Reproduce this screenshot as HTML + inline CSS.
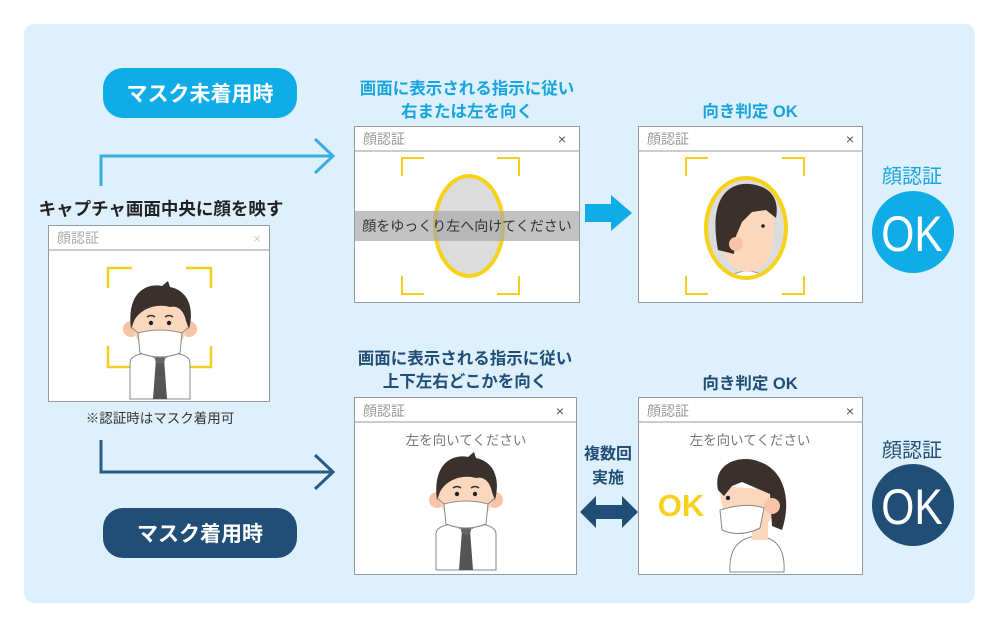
<!DOCTYPE html>
<html><head><meta charset="utf-8"><style>
html,body{margin:0;padding:0;background:#fff;}
svg{display:block;font-family:"Liberation Sans","Noto Sans CJK JP",sans-serif;}
</style></head><body>
<svg width="1000" height="625" viewBox="0 0 1000 625" xmlns="http://www.w3.org/2000/svg">
<defs>
<g id="front">
  <rect x="-8" y="20" width="16" height="22" fill="#fbd7bd"/>
  <path d="M-30,80 L-30,44 Q-30,36 -14,34 L14,34 Q30,36 30,44 L30,80 Z" fill="#fff" stroke="#888" stroke-width="1"/>
  <path d="M-14,34 L0,42 L14,34" fill="none" stroke="#888" stroke-width="1"/>
  <polygon points="-4,40 4,40 7,80 -7,80" fill="#555"/>
  <circle cx="0" cy="40" r="5" fill="#666"/>
  <circle cx="-29" cy="10" r="8" fill="#f6c4a6"/>
  <circle cx="29" cy="10" r="8" fill="#f6c4a6"/>
  <ellipse cx="0" cy="4" rx="27" ry="30" fill="#fbd7bd"/>
  <path d="M-29,10 C-34,-30 -10,-36 2,-33 L8,-38 L10,-32 C30,-28 34,-8 29,10 L26,2 C24,-8 18,-14 10,-12 C-4,-16 -20,-10 -26,2 Z" fill="#3a302c"/>
  <path d="M-13,-2 Q-9,-5 -5,-2 M5,-2 Q9,-5 13,-2" stroke="#3a302c" stroke-width="1.5" fill="none"/>
  <circle cx="-9" cy="4" r="2.2" fill="#222"/>
  <circle cx="9" cy="4" r="2.2" fill="#222"/>
  <path d="M-22,14 Q0,8 22,14 L20,34 Q0,42 -20,34 Z" fill="#fff" stroke="#888" stroke-width="1"/>
  <path d="M-22,14 L-29,8 M22,14 L29,8" stroke="#888" stroke-width="1"/>
</g>
</defs>
<rect x="24" y="24" width="951" height="579" rx="10" fill="#def0fb"/>

<!-- pills -->
<rect x="103" y="68" width="194" height="50" rx="20" fill="#10ace8"/>
<text x="200" y="101" text-anchor="middle" font-size="21" font-weight="bold" fill="#fff">マスク未着用時</text>
<rect x="103" y="508" width="194" height="50" rx="20" fill="#214e76"/>
<text x="200" y="541" text-anchor="middle" font-size="21" font-weight="bold" fill="#fff">マスク着用時</text>

<!-- connectors -->
<path d="M101,186 L101,156 L333,156" fill="none" stroke="#3aaee0" stroke-width="3"/>
<path d="M315,139 L333,156 L315,173" fill="none" stroke="#3aaee0" stroke-width="3"/>
<path d="M101,440 L101,472 L333,472" fill="none" stroke="#2c5b86" stroke-width="3"/>
<path d="M315,455 L333,472 L315,489" fill="none" stroke="#2c5b86" stroke-width="3"/>

<text x="161" y="215" text-anchor="middle" font-size="17.5" font-weight="bold" fill="#222">キャプチャ画面中央に顔を映す</text>

<!-- window 1 -->
<rect x="48.5" y="225.5" width="221" height="176" fill="#fff" stroke="#999"/>
<line x1="48" y1="250" x2="270" y2="250" stroke="#999"/>
<text x="57" y="243" font-size="14" fill="#aaa">顔認証</text>
<text x="257" y="243" text-anchor="middle" font-size="13" fill="#ccc">×</text>
<path d="M108,288 L108,268 L132,268 M186,268 L211,268 L211,288 M108,346 L108,367 L132,367 M186,367 L211,367 L211,346" stroke="#f5cf1e" stroke-width="2.5" fill="none"/>
<use href="#front" transform="translate(160,319)"/>
<text x="160" y="423" text-anchor="middle" font-size="13.5" fill="#333">※認証時はマスク着用可</text>

<!-- top headings -->
<text x="467" y="94" text-anchor="middle" font-size="16.5" font-weight="bold" fill="#18a4df">画面に表示される指示に従い</text>
<text x="467" y="117" text-anchor="middle" font-size="16.5" font-weight="bold" fill="#18a4df">右または左を向く</text>
<text x="750" y="117" text-anchor="middle" font-size="16.5" font-weight="bold" fill="#18a4df">向き判定 OK</text>

<!-- window 2 -->
<rect x="354.5" y="126.5" width="225" height="176" fill="#fff" stroke="#999"/>
<line x1="354" y1="151" x2="580" y2="151" stroke="#999"/>
<text x="363" y="144" font-size="14" fill="#999">顔認証</text>
<text x="562" y="144" text-anchor="middle" font-size="14" fill="#555">×</text>
<path d="M402,176 L402,158 L424,158 M497,158 L519,158 L519,176 M402,276 L402,294 L424,294 M497,294 L519,294 L519,276" stroke="#f5cf1e" stroke-width="2" fill="none"/>
<ellipse cx="469" cy="226" rx="34" ry="50" fill="#dcdcdc" stroke="#f7d21a" stroke-width="4"/>
<rect x="355" y="211" width="224" height="30" fill="#a8a8a8" fill-opacity="0.7"/>
<text x="467" y="231" text-anchor="middle" font-size="14" fill="#333">顔をゆっくり左へ向けてください</text>

<!-- blue arrow -->
<polygon points="585,204 611,204 611,195 632,213 611,231 611,222 585,222" fill="#10ace8"/>

<!-- window 3 -->
<rect x="638.5" y="126.5" width="224" height="176" fill="#fff" stroke="#999"/>
<line x1="638" y1="151" x2="863" y2="151" stroke="#999"/>
<text x="647" y="144" font-size="14" fill="#999">顔認証</text>
<text x="850" y="144" text-anchor="middle" font-size="14" fill="#555">×</text>
<path d="M686,176 L686,158 L708,158 M782,158 L804,158 L804,176 M686,276 L686,294 L708,294 M782,294 L804,294 L804,276" stroke="#f5cf1e" stroke-width="2" fill="none"/>
<clipPath id="ov"><ellipse cx="746" cy="228" rx="38" ry="48"/></clipPath>
<ellipse cx="746" cy="228" rx="40" ry="50" fill="#dcdcdc" stroke="#f7d21a" stroke-width="4"/>
<g clip-path="url(#ov)">
<path d="M726,280 Q746,262 770,280 Z" fill="#fff" stroke="#999"/>
<path d="M722,230 Q722,272 748,272 Q772,270 774,236 L774,200 L722,200 Z" fill="#fbd7bd"/>
<path d="M718,250 C708,196 730,182 750,184 C768,186 780,196 776,218 L766,210 L752,212 L742,222 L736,236 L734,254 Z" fill="#3a302c"/>
<circle cx="736" cy="244" r="7" fill="#f6c4a6"/>
<circle cx="763" cy="226" r="1.8" fill="#222"/>
</g>

<!-- OK top -->
<text x="912" y="183" text-anchor="middle" font-size="20" fill="#18a4df">顔認証</text>
<circle cx="913" cy="232" r="41" fill="#10ace8"/>
<text x="912" y="251" text-anchor="middle" font-size="50" fill="#fff" transform="translate(912,0) scale(0.85,1) translate(-912,0)">OK</text>

<!-- bottom headings -->
<text x="465" y="364" text-anchor="middle" font-size="16.5" font-weight="bold" fill="#214e76">画面に表示される指示に従い</text>
<text x="465" y="387" text-anchor="middle" font-size="16.5" font-weight="bold" fill="#214e76">上下左右どこかを向く</text>
<text x="750" y="389" text-anchor="middle" font-size="16.5" font-weight="bold" fill="#214e76">向き判定 OK</text>

<!-- window 4 -->
<rect x="354.5" y="397.5" width="222" height="177" fill="#fff" stroke="#999"/>
<line x1="354" y1="422" x2="577" y2="422" stroke="#999"/>
<text x="363" y="416" font-size="14" fill="#999">顔認証</text>
<text x="560" y="416" text-anchor="middle" font-size="14" fill="#555">×</text>
<text x="466" y="445" text-anchor="middle" font-size="13.5" fill="#777">左を向いてください</text>
<use href="#front" transform="translate(466,490)"/>

<!-- double arrow -->
<text x="608" y="459" text-anchor="middle" font-size="16" font-weight="bold" fill="#214e76">複数回</text>
<text x="608" y="483" text-anchor="middle" font-size="16" font-weight="bold" fill="#214e76">実施</text>
<polygon points="580,512 596,496 596,505 622,505 622,496 638,512 622,528 622,519 596,519 596,528" fill="#214e76"/>

<!-- window 5 -->
<rect x="638.5" y="397.5" width="224" height="177" fill="#fff" stroke="#999"/>
<line x1="638" y1="422" x2="863" y2="422" stroke="#999"/>
<text x="647" y="416" font-size="14" fill="#999">顔認証</text>
<text x="850" y="416" text-anchor="middle" font-size="14" fill="#555">×</text>
<text x="750" y="445" text-anchor="middle" font-size="13.5" fill="#777">左を向いてください</text>
<text x="681" y="516" text-anchor="middle" font-size="31" font-weight="bold" fill="#f7d21a">OK</text>
<path d="M730,572 Q728,538 758,536 Q786,538 784,572 Z" fill="#fff" stroke="#888"/>
<rect x="752" y="518" width="16" height="22" fill="#fbd7bd"/>
<path d="M720,486 Q720,528 750,530 Q778,528 778,490 Z" fill="#fbd7bd"/>
<path d="M718,490 C712,462 742,454 760,462 C784,470 792,500 782,530 L772,526 L770,494 L742,482 L732,486 L724,496 Z" fill="#3a302c"/>
<circle cx="772" cy="506" r="8" fill="#f6c4a6"/>
<circle cx="728" cy="498" r="2.2" fill="#222"/>
<path d="M720,510 Q746,502 764,508 L760,528 Q740,538 722,530 Z" fill="#fff" stroke="#888"/>

<!-- OK bottom -->
<text x="912" y="457" text-anchor="middle" font-size="20" fill="#214e76">顔認証</text>
<circle cx="913" cy="505" r="41" fill="#214e76"/>
<text x="912" y="524" text-anchor="middle" font-size="50" fill="#fff" transform="translate(912,0) scale(0.85,1) translate(-912,0)">OK</text>
</svg>
</body></html>
